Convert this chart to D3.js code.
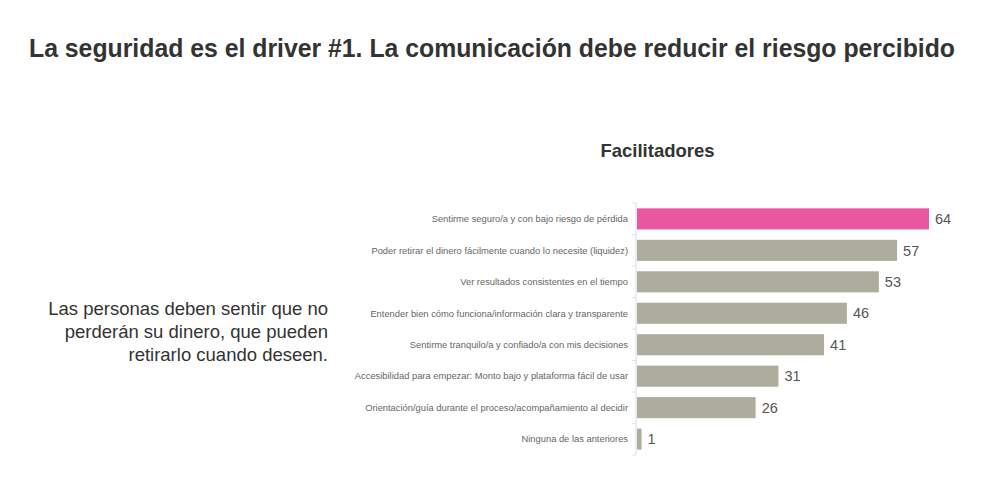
<!DOCTYPE html>
<html>
<head>
<meta charset="utf-8">
<script src="https://cdn.jsdelivr.net/npm/d3@7"></script>
<style>
  body { margin: 0; background: #fff; }
  svg { font-family: "Liberation Sans", Arial, sans-serif; }
</style>
</head>
<body>
<div id="chart"></div>
<script>
const categories = [
  "Sentirme seguro/a y con bajo riesgo de pérdida",
  "Poder retirar el dinero fácilmente cuando lo necesite (liquidez)",
  "Ver resultados consistentes en el tiempo",
  "Entender bien cómo funciona/información clara y transparente",
  "Sentirme tranquilo/a y confiado/a con mis decisiones",
  "Accesibilidad para empezar: Monto bajo y plataforma fácil de usar",
  "Orientación/guía durante el proceso/acompañamiento al decidir",
  "Ninguna de las anteriores"
]
const values = [64, 57, 53, 46, 41, 31, 26, 1]
const highlight = [true, false, false, false, false, false, false, false]

const title = "La seguridad es el driver #1. La comunicación debe reducir el riesgo percibido"
const subtitle = "Facilitadores"
const sideText = ["Las personas deben sentir que no", "perderán su dinero, que pueden", "retirarlo cuando deseen."]

const W = 992, H = 490
const margin = { left: 636, top: 203 }
const plotW = 292, plotH = 252

const svg = d3.select("#chart").append("svg")
    .attr("width", W)
    .attr("height", H)

svg.append("text")
    .attr("x", 29)
    .attr("y", 57)
    .attr("font-size", 25)
    .attr("font-weight", "bold")
    .attr("fill", "#333")
    .attr("textLength", 926)
    .attr("lengthAdjust", "spacingAndGlyphs")
    .text(title)

svg.append("text")
    .attr("x", 657.5)
    .attr("y", 157)
    .attr("text-anchor", "middle")
    .attr("font-size", 18.5)
    .attr("font-weight", "bold")
    .attr("fill", "#333")
    .text(subtitle)

svg.append("g")
    .selectAll("text")
    .data(sideText)
    .join("text")
    .attr("x", 328)
    .attr("y", (d, i) => 315 + i * 23)
    .attr("text-anchor", "end")
    .attr("font-size", 18.5)
    .attr("fill", "#333")
    .text(d => d)

const xScale = d3.scaleLinear().domain([0, 64]).range([0, plotW])
const yScale = d3.scaleBand().domain(categories).range([0, plotH]).paddingInner(0.33).paddingOuter(0.17)

const g = svg.append("g").attr("transform", `translate(${margin.left},${margin.top})`)

// category boundary ticks
g.append("g")
    .selectAll("line")
    .data(d3.range(categories.length + 1))
    .join("line")
    .attr("x1", -4).attr("x2", 0)
    .attr("y1", i => i * plotH / categories.length)
    .attr("y2", i => i * plotH / categories.length)
    .attr("stroke", "#e3e3e3")

g.append("line")
    .attr("x1", 0).attr("x2", 0)
    .attr("y1", 0).attr("y2", plotH)
    .attr("stroke", "#dcdcdc")

g.append("g")
    .selectAll("rect")
    .data(categories)
    .join("rect")
    .attr("x", 1)
    .attr("y", d => yScale(d))
    .attr("width", (d, i) => xScale(values[i]))
    .attr("height", yScale.bandwidth())
    .attr("fill", (d, i) => highlight[i] ? "#e957a3" : "#adad9d")

g.append("g")
    .selectAll("text")
    .data(categories)
    .join("text")
    .attr("x", -8)
    .attr("y", d => yScale(d) + yScale.bandwidth() / 2)
    .attr("dy", "0.35em")
    .attr("text-anchor", "end")
    .attr("font-size", 9.35)
    .attr("fill", "#666")
    .text(d => d)

g.append("g")
    .selectAll("text")
    .data(categories)
    .join("text")
    .attr("x", (d, i) => xScale(values[i]) + 7)
    .attr("y", d => yScale(d) + yScale.bandwidth() / 2)
    .attr("dy", "0.36em")
    .attr("font-size", 14.5)
    .attr("fill", "#555")
    .text((d, i) => values[i])
</script>
</body>
</html>
